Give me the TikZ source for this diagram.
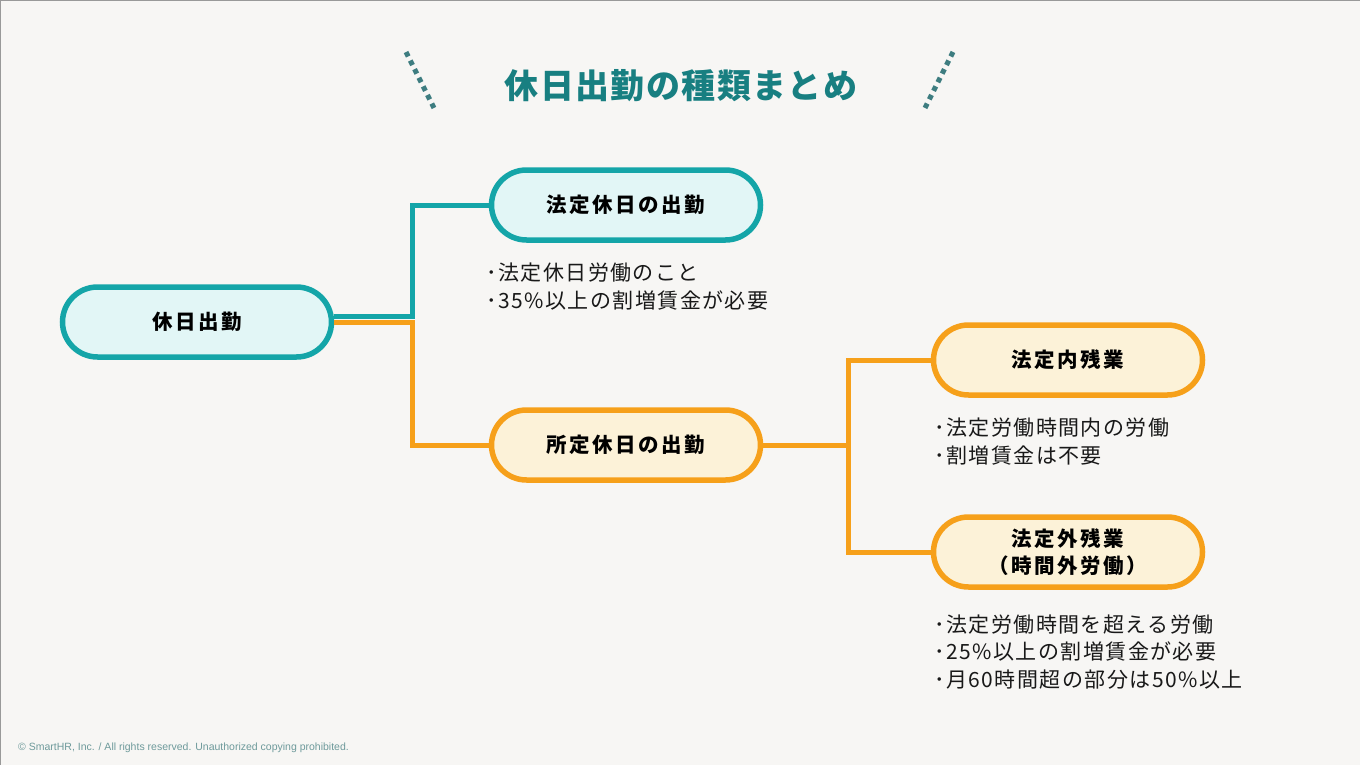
\documentclass[tikz,border=0pt]{standalone}
\usepackage{fontspec}
\newfontfamily\jp{Noto Sans CJK JP}
\newfontfamily\jpn[LetterSpace=12]{Noto Sans CJK JP}
\newfontfamily\jpb[LetterSpace=7]{Noto Sans CJK JP}
\newfontfamily\jpt[LetterSpace=4]{Noto Sans CJK JP}
\newfontfamily\foot{Liberation Sans}
\definecolor{bg}{HTML}{F7F6F4}
\definecolor{tealc}{HTML}{14A5A8}
\definecolor{tealfill}{HTML}{E2F6F6}
\definecolor{orangec}{HTML}{F6A01A}
\definecolor{orangefill}{HTML}{FCF2D8}
\definecolor{titlec}{HTML}{187F81}
\definecolor{dashc}{HTML}{3E7D80}
\definecolor{footc}{HTML}{6E9A9B}
\tikzset{
  pill/.style={draw, line width=5.5pt, rounded corners=35pt, minimum width=269pt, minimum height=70pt, inner sep=0pt, align=center, font=\jpn\bfseries\fontsize{20.5}{27}\selectfont, text=black},
  tealpill/.style={pill, draw=tealc, fill=tealfill},
  orangepill/.style={pill, draw=orangec, fill=orangefill},
  conn/.style={line width=5pt, line join=miter},
  bullets/.style={anchor=base west, inner sep=0pt, align=left, font=\jpb\fontsize{21}{27.5}\selectfont, text=black!90},
  dots/.style={draw=dashc, line width=5pt, dash pattern=on 5pt off 4.6pt}
}
\begin{document}
\begin{tikzpicture}[x=1pt,y=-1pt]
\fill[bg] (0,0) rectangle (1360,765);
\useasboundingbox (0,0) rectangle (1360,765);
\draw[gray!80, line width=1.2pt] (0,765) -- (0,0) -- (1360,0);
\draw[gray!25, line width=1pt] (1360,0) -- (1360,765) -- (0,765);
% title
\node[font=\jpt\bfseries\fontsize{34}{36}\selectfont, text=titlec] (title) at (681,86) {休日出勤の種類まとめ};
\coordinate (dl1) at (406,52); \coordinate (dl2) at (436,112);
\coordinate (dr1) at (953,52); \coordinate (dr2) at (923,112);
\draw[dots] (dl1) -- (dl2);
\draw[dots] (dr1) -- (dr2);
% nodes
\node[tealpill] (root) at (197,322) {休日出勤};
\node[tealpill] (legal) at (626,205) {法定休日の出勤};
\node[orangepill] (company) at (626,445) {所定休日の出勤};
\node[orangepill] (within) at (1068,360) {法定内残業};
\node[orangepill] (over) at (1068,552) {法定外残業\\（時間外労働）};
% connectors
\coordinate (j1t) at (412,316);
\coordinate (j1o) at (412,322.5);
\draw[conn, tealc] ([yshift=6pt]root.east) -- (j1t) |- (legal.west);
\draw[conn, orangec] ([yshift=-0.5pt]root.east) -- (j1o) |- (company.west);
\coordinate (j2) at (848,445);
\draw[conn, orangec] (company.east) -- (j2);
\draw[conn, orangec] (within.west) -| (j2) |- (over.west);
% bullet texts (anchored at the baseline of the last line)
\node[bullets] (b1) at (486,308) {･法定休日労働のこと\\･35\%以上の割増賃金が必要};
\node[bullets] (b2) at (934,463) {･法定労働時間内の労働\\･割増賃金は不要};
\node[bullets] (b3) at (934,687) {･法定労働時間を超える労働\\･25\%以上の割増賃金が必要\\･月60時間超の部分は50\%以上};
% footer
\node[anchor=base west, inner sep=0pt, font=\foot\fontsize{10.5}{12}\selectfont, text=footc] (footer) at (18,750) {© SmartHR, Inc. / All rights reserved. Unauthorized copying prohibited.};
\end{tikzpicture}
\end{document}
